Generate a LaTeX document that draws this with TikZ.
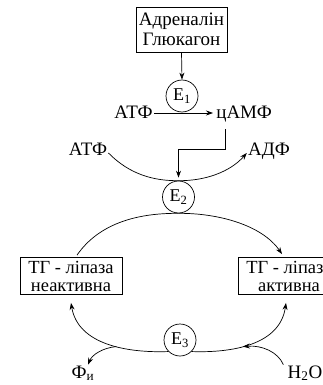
\documentclass[tikz,border=0pt]{standalone}
\usepackage{fontspec}
\setmainfont{Liberation Serif}
\usetikzlibrary{arrows.meta}
\begin{document}
\begin{tikzpicture}[x=1pt,y=-1pt,line width=0.7pt,
  lab/.style={font=\fontsize{19}{20}\selectfont, inner sep=1pt, text height=12pt, text depth=2pt},
  box/.style={draw, line width=0.8pt, align=center, inner sep=0pt, font=\fontsize{18.5}{18}\selectfont},
  enz/.style={draw, circle, fill=white, line width=0.7pt, minimum size=32pt, inner sep=0pt, font=\fontsize{18}{18}\selectfont},
  arr/.style={-{Stealth[length=7pt,width=5pt]}}]
\useasboundingbox (0,0) rectangle (323,385);
\clip (0,0) rectangle (323,385);

% nodes
\node[box, minimum width=91pt, minimum height=45pt, font=\fontsize{19}{20}\selectfont] (horm) at (181.5,29.5) {Адреналін\\Глюкагон};
\node[enz] (e1) at (182,96) {E\textsubscript{1}};
\node[lab, anchor=east] (atp1) at (154,113) {АТФ};
\node[lab, anchor=west] (camp) at (215,113) {цАМФ};
\node[lab] (atp2) at (88,150) {АТФ};
\node[lab] (adp) at (269,150) {АДФ};
\node[enz] (e2) at (178.5,197) {E\textsubscript{2}};
\node[box, minimum width=102pt, minimum height=37pt] (lbox) at (71,276) {ТГ - ліпаза\\неактивна};
\node[box, minimum width=102pt, minimum height=37pt] (rbox) at (289,276) {ТГ - ліпаза\\активна};
\node[enz] (e3) at (180,340) {E\textsubscript{3}};
\node[lab] (phi) at (83,373) {Ф\textsubscript{и}};
\node[lab] (h2o) at (305,373) {H\textsubscript{2}O};

% connectors
\draw[arr] (horm.south) -- (e1.north);
\draw[arr, shorten >=2pt] (atp1.east) -- (camp.west);
\draw[arr, shorten >=3pt] ([xshift=10pt,yshift=-8pt]camp.south west) -- ++(0,20) -| (e2.north);
\draw[arr] ([yshift=-3pt]atp2.east) .. controls (130,175) and (155,181) .. (e2.north)
   .. controls (205,181) and (230,172) .. ([yshift=-3pt]adp.west);
\draw (e2.south) .. controls (140,213) and (100,222) .. ([xshift=6pt,yshift=2pt]lbox.north);
\draw[arr] (e2.south) .. controls (218,213) and (262,225) .. ([xshift=-7pt,yshift=3pt]rbox.north);
\draw[arr] (e3.225) .. controls (128,353) and (78,345) .. ([yshift=-8pt]lbox.south) coordinate[pos=0.42] (phijoin);
\draw[arr] (e3.-45) .. controls (232,353) and (280,345) .. ([xshift=-3pt,yshift=-8pt]rbox.south) coordinate[pos=0.42] (h2ojoin);
\draw[arr] (phijoin) .. controls (102,348) and (92,355) .. ([xshift=5pt]phi.north);
\draw[arr] ([xshift=-3pt]h2o.north west) .. controls (278,352) and (262,345) .. (h2ojoin);
\end{tikzpicture}
\end{document}
